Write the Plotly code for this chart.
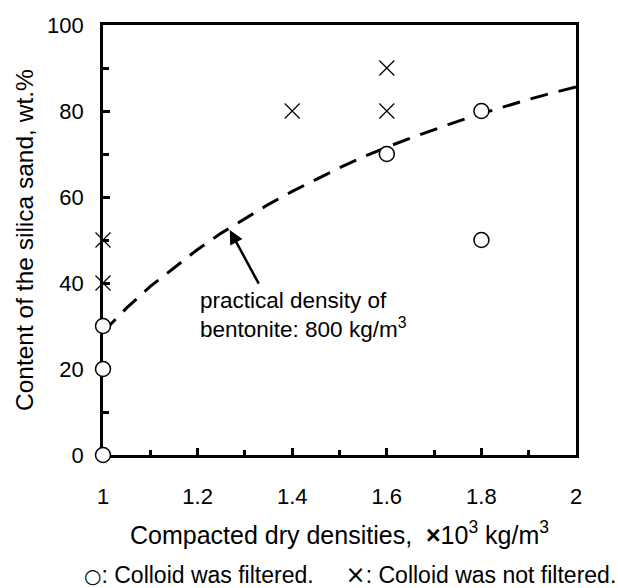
import plotly.graph_objects as go

# Data
filtered_x = [1.0, 1.0, 1.0, 1.6, 1.8, 1.8]
filtered_y = [0, 20, 30, 70, 80, 50]
not_filtered_x = [1.0, 1.0, 1.4, 1.6, 1.6]
not_filtered_y = [40, 50, 80, 80, 90]
curve_x = [1.0, 1.05, 1.1, 1.15, 1.2, 1.25, 1.3, 1.35, 1.4, 1.45, 1.5,
           1.55, 1.6, 1.65, 1.7, 1.75, 1.8, 1.85, 1.9, 1.95, 2.0]
curve_y = [28.6, 34.2, 39.2, 43.6, 47.8, 51.6, 55.0, 58.3, 61.3, 64.1, 66.8,
           69.3, 71.6, 73.7, 75.7, 77.6, 79.4, 81.1, 82.7, 84.2, 85.6]
x_ticks = [1, 1.2, 1.4, 1.6, 1.8, 2]
x_tick_labels = ["1", "1.2", "1.4", "1.6", "1.8", "2"]
y_ticks = [0, 20, 40, 60, 80, 100]
y_tick_labels = ["0", "20", "40", "60", "80", "100"]

FONT = "Liberation Sans, Arial, sans-serif"

fig = go.Figure()
fig.add_trace(go.Scatter(
    x=curve_x, y=curve_y, mode="lines",
    line=dict(color="black", width=3, dash="18px,11px"),
    hoverinfo="skip", showlegend=False, cliponaxis=False))
fig.add_trace(go.Scatter(
    x=not_filtered_x, y=not_filtered_y, mode="markers",
    marker=dict(symbol="x-thin-open", size=15, color="black",
                line=dict(color="black", width=1.2)),
    showlegend=False, cliponaxis=False))
fig.add_trace(go.Scatter(
    x=filtered_x, y=filtered_y, mode="markers",
    marker=dict(symbol="circle", size=15, color="white",
                line=dict(color="black", width=1.5)),
    showlegend=False, cliponaxis=False))

axis_common = dict(
    showgrid=False, zeroline=False, showline=True, linecolor="black",
    linewidth=2.7, mirror=True, ticks="inside", tickcolor="black",
    tickwidth=2.5, ticklen=7, layer="below traces",
    tickfont=dict(family=FONT, size=22, color="black"),
)

fig.update_xaxes(range=[1, 2], tickvals=x_ticks, ticktext=x_tick_labels,
                 minor=dict(ticks="inside", dtick=0.1, ticklen=5,
                            tickwidth=2.5, tickcolor="black"),
                 ticklabelstandoff=20, **axis_common)
fig.update_yaxes(range=[0, 100], tickvals=y_ticks, ticktext=y_tick_labels,
                 minor=dict(ticks="inside", dtick=10, ticklen=6,
                            tickwidth=2.5, tickcolor="black"),
                 ticklabelstandoff=12, **axis_common)

annotations = [
    dict(x=1.268, y=52.3, ax=1.331, ay=39.5, xref="x", yref="y",
         axref="x", ayref="y", text="", showarrow=True, arrowhead=2,
         arrowsize=1.1, arrowwidth=2.5, arrowcolor="black", standoff=0),
    dict(x=1.2, y=32.5, xref="x", yref="y", xanchor="left", yanchor="middle",
         align="left", showarrow=False,
         text="practical density of<br>bentonite: 800 kg/m<sup>3</sup>",
         font=dict(family=FONT, size=22.5, color="black")),
    dict(x=0.5, y=-0.181, xref="paper", yref="paper", xanchor="center",
         yanchor="middle", showarrow=False,
         text="Compacted dry densities,  <b>×</b>10<sup>3</sup> kg/m<sup>3</sup>",
         font=dict(family=FONT, size=25, color="black")),
    dict(x=-0.167, y=0.5, xref="paper", yref="paper", xanchor="center",
         yanchor="middle", showarrow=False, textangle=-90,
         text="Content of the silica sand, wt.%",
         font=dict(family=FONT, size=24.5, color="black")),
    dict(x=-0.044, y=-0.279, xref="paper", yref="paper", xanchor="left",
         yanchor="middle", showarrow=False,
         text=("<span style=\"font-family:'DejaVu Sans';font-size:20px\">○</span>"
               ": Colloid was filtered.&nbsp;&nbsp;&nbsp;&nbsp; "
               "<span style=\"font-family:'DejaVu Sans';font-size:24px\">×</span>"
               ": Colloid was not filtered."),
         font=dict(family=FONT, size=23, color="black")),
]

fig.update_layout(
    width=618, height=588,
    margin=dict(l=103, r=42, t=25, b=133),
    paper_bgcolor="white", plot_bgcolor="white",
    showlegend=False, annotations=annotations,
    font=dict(family=FONT, color="black"),
)

fig.write_html("out.html")
